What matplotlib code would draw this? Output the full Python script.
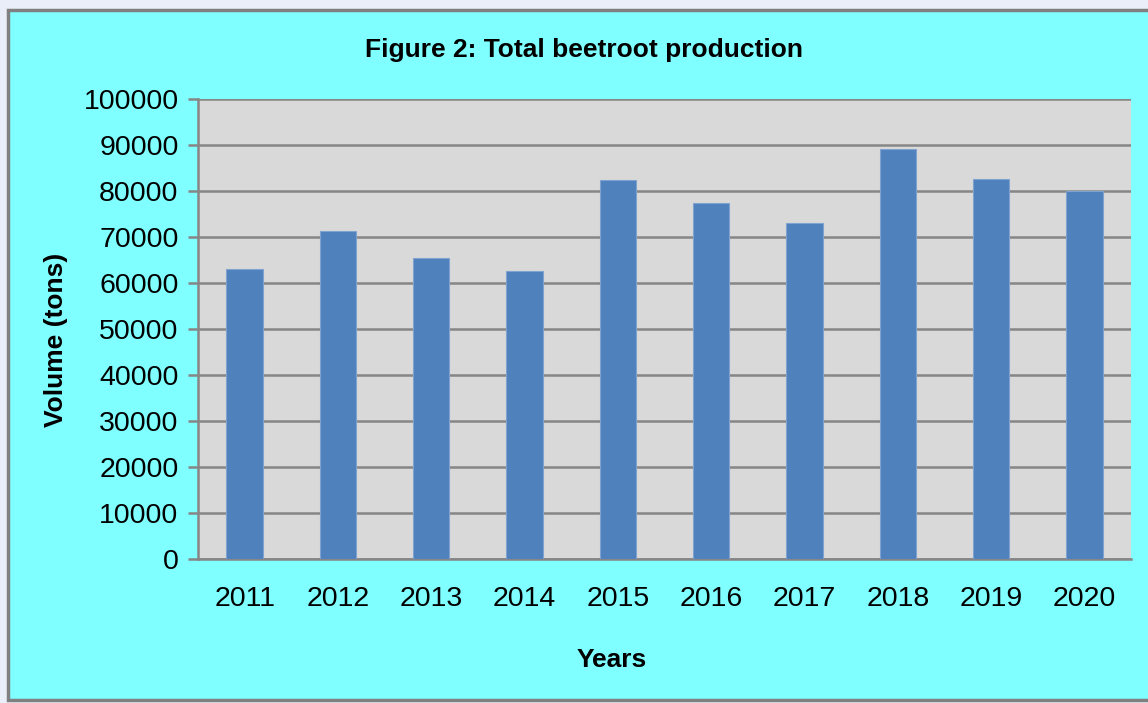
import matplotlib.pyplot as plt
from matplotlib.patches import Rectangle

# Data
years = ['2011', '2012', '2013', '2014', '2015', '2016', '2017', '2018', '2019', '2020']
volume = [63000, 71400, 65400, 62600, 82500, 77400, 73200, 89200, 82600, 80100]
y_ticks = list(range(0, 100001, 10000))

plt.rcParams['font.family'] = ['Liberation Sans Narrow', 'Liberation Sans', 'DejaVu Sans']

fig = plt.figure(figsize=(11.48, 7.03), dpi=100, facecolor='#E9EEF8')

# cyan chart panel with grey frame, kept behind the axes (runs off the right edge)
fig.patches.append(Rectangle((8 / 1148, 3 / 703), 1160 / 1148, 690 / 703,
                             transform=fig.transFigure, facecolor='#7FFFFF',
                             edgecolor='#808080', linewidth=2.5, zorder=-5))

ax = fig.add_axes([198 / 1148, 1 - 559.3 / 703, (1131 - 198) / 1148, 460 / 703])
ax.set_facecolor('#D9D9D9')

x = range(len(years))
ax.bar(x, volume, width=0.39, color='#4F81BD', edgecolor='#7FA3D0', linewidth=0.8, zorder=3)

ax.set_xlim(-0.5, len(years) - 0.5)
ax.set_ylim(0, 100000)
ax.set_yticks(y_ticks)
ax.set_yticklabels([str(v) for v in y_ticks])
ax.set_xticks(list(x))
ax.set_xticklabels(years)

ax.grid(axis='y', color='#868686', linewidth=1.8, zorder=1)
ax.set_axisbelow(True)
for side in ['top', 'right']:
    ax.spines[side].set_visible(False)
for side in ['left', 'bottom']:
    ax.spines[side].set_color('#868686')
    ax.spines[side].set_linewidth(1.8)

ax.tick_params(axis='y', length=7, width=1.8, color='#868686', pad=7, labelsize=20.5)
ax.tick_params(axis='x', length=0, pad=19, labelsize=20.5)

fig.text(584 / 1148, 1 - 50 / 703, 'Figure 2: Total beetroot production',
         ha='center', va='center', fontsize=19, fontweight='bold')
fig.text(612 / 1148, 1 - 660 / 703, 'Years',
         ha='center', va='center', fontsize=19, fontweight='bold')
fig.text(56 / 1148, 1 - 340 / 703, 'Volume (tons)', rotation=90,
         ha='center', va='center', fontsize=19, fontweight='bold')

fig.savefig('out.png', dpi=100, facecolor=fig.get_facecolor())
